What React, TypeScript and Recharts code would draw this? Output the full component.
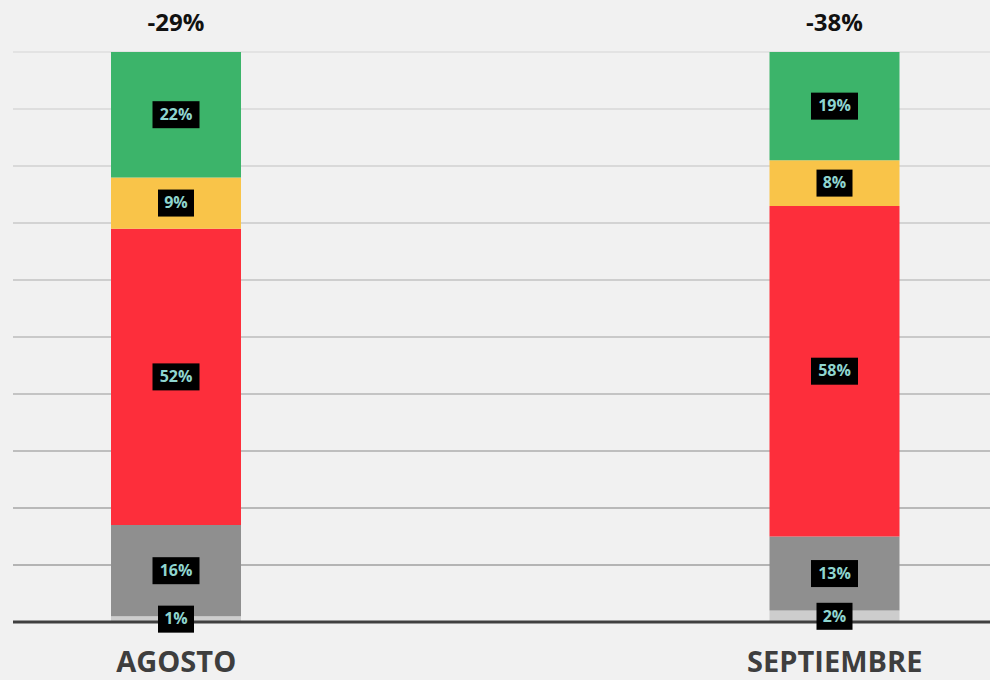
import React from 'react';
import { BarChart, Bar, XAxis, YAxis, CartesianGrid, LabelList } from 'recharts';

const categories = ['AGOSTO', 'SEPTIEMBRE'];
const lightGrayShare = [1, 2];
const grayShare = [16, 13];
const redShare = [52, 58];
const yellowShare = [9, 8];
const greenShare = [22, 19];
const changeLabels = ['-29%', '-38%'];
const yTicks = [0, 10, 20, 30, 40, 50, 60, 70, 80, 90, 100];

const data = categories.map((name, i) => ({
  name,
  lightGray: lightGrayShare[i],
  gray: grayShare[i],
  red: redShare[i],
  yellow: yellowShare[i],
  green: greenShare[i],
  change: changeLabels[i],
}));

const FONT = '"Open Sans", "DejaVu Sans", sans-serif';

const BoxLabel = (props: any) => {
  const { x, y, width, height, value } = props;
  const cx = Number(x) + Number(width) / 2;
  const cy = Number(y) + Number(height) / 2;
  const text = `${value}%`;
  const w = 11 * text.length + 14;
  const h = 27;
  return (
    <g>
      <rect x={cx - w / 2} y={cy - h / 2} width={w} height={h} fill="#000" />
      <text
        x={cx}
        y={cy + 1}
        textAnchor="middle"
        dominantBaseline="middle"
        fill="#8fd5cf"
        fontFamily={FONT}
        fontWeight={700}
        fontSize={16}
      >
        {text}
      </text>
    </g>
  );
};

const TopLabel = (props: any) => {
  const { x, y, width, value } = props;
  return (
    <text
      x={Number(x) + Number(width) / 2}
      y={Number(y) - 21}
      textAnchor="middle"
      fill="#111"
      fontFamily={FONT}
      fontWeight={700}
      fontSize={24}
    >
      {value}
    </text>
  );
};

const CategoryTick = (props: any) => {
  const { x, y, payload } = props;
  return (
    <text
      x={x}
      y={Number(y) + 50}
      textAnchor="middle"
      fill="#3e3e3e"
      fontFamily={FONT}
      fontWeight={700}
      fontSize={29}
    >
      {payload.value}
    </text>
  );
};

const GridLine = (props: any) => {
  const { x1, y1, x2, y2 } = props;
  const t = Math.max(0, Math.min(1, (Number(y1) - 52) / 570));
  const g = Math.round(222 - t * 70);
  return <line x1={x1} y1={y1} x2={x2} y2={y2} stroke={`rgb(${g},${g},${g})`} strokeWidth={1.5} />;
};

export default function App() {
  return (
    <div style={{ position: 'absolute', left: 0, top: 0, width: 990, height: 680, background: '#f1f1f1' }}>
      <BarChart
        width={990}
        height={680}
        data={data}
        margin={{ top: 52, right: 0, left: 13, bottom: 0 }}
        barSize={130}
      >
        <CartesianGrid vertical={false} horizontal={GridLine as any} />
        <YAxis hide domain={[0, 100]} ticks={yTicks} type="number" />
        <XAxis
          dataKey="name"
          height={58}
          padding={{ left: -166, right: -174 }}
          axisLine={{ stroke: '#404040', strokeWidth: 3 }}
          tickLine={false}
          tickSize={0}
          tickMargin={0}
          tick={<CategoryTick />}
          interval={0}
        />
        <Bar dataKey="lightGray" stackId="s" fill="#cdcdcd" isAnimationActive={false}>
          <LabelList dataKey="lightGray" content={<BoxLabel />} />
        </Bar>
        <Bar dataKey="gray" stackId="s" fill="#8f8f8f" isAnimationActive={false}>
          <LabelList dataKey="gray" content={<BoxLabel />} />
        </Bar>
        <Bar dataKey="red" stackId="s" fill="#fd2e3b" isAnimationActive={false}>
          <LabelList dataKey="red" content={<BoxLabel />} />
        </Bar>
        <Bar dataKey="yellow" stackId="s" fill="#f9c449" isAnimationActive={false}>
          <LabelList dataKey="yellow" content={<BoxLabel />} />
        </Bar>
        <Bar dataKey="green" stackId="s" fill="#3cb46a" isAnimationActive={false}>
          <LabelList dataKey="green" content={<BoxLabel />} />
          <LabelList dataKey="change" content={<TopLabel />} />
        </Bar>
      </BarChart>
    </div>
  );
}
